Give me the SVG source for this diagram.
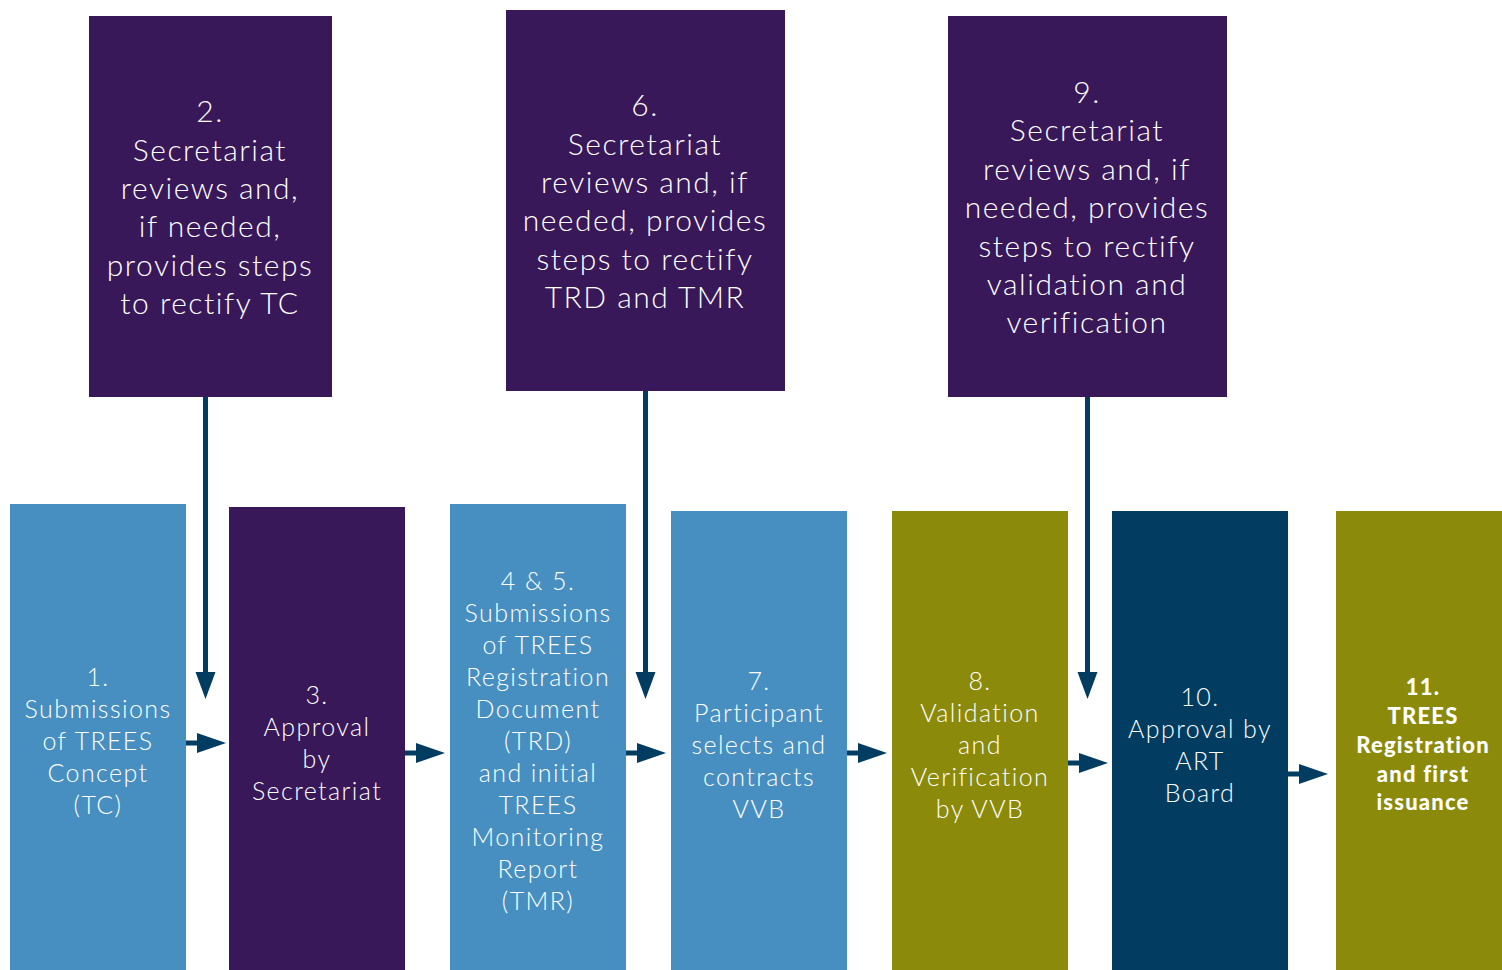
<svg xmlns="http://www.w3.org/2000/svg" width="1502" height="970" viewBox="0 0 1502 970">
<style>
.lb{fill:#478FC0}.pu{fill:#381858}.ol{fill:#8B8A0B}.nv{fill:#023D61}
text{font-family:Lato,"Open Sans","Liberation Sans",sans-serif;fill:#fff;text-anchor:middle;font-weight:300}
.t{font-size:30px;letter-spacing:1.5px}.b{font-size:25px;letter-spacing:1.4px}.bb{font-size:22px;font-weight:900;letter-spacing:1.2px}
.ln{stroke:#023D61;stroke-width:5;fill:none}
.hd{fill:#023D61}
</style>
<rect width="1502" height="970" fill="#fff"/>
<g id="n2"><rect class="pu" x="89" y="16" width="243" height="381"/>
<text class="t"><tspan x="210" y="122">2.</tspan><tspan x="210" y="161">Secretariat</tspan><tspan x="210" y="199">reviews and,</tspan><tspan x="210" y="237">if needed,</tspan><tspan x="210" y="276">provides steps</tspan><tspan x="210" y="314">to rectify TC</tspan></text></g>
<g id="n6"><rect class="pu" x="506" y="10" width="279" height="381"/>
<text class="t"><tspan x="645" y="116">6.</tspan><tspan x="645" y="155">Secretariat</tspan><tspan x="645" y="193">reviews and, if</tspan><tspan x="645" y="231">needed, provides</tspan><tspan x="645" y="270">steps to rectify</tspan><tspan x="645" y="308">TRD and TMR</tspan></text></g>
<g id="n9"><rect class="pu" x="948" y="16" width="279" height="381"/>
<text class="t"><tspan x="1087" y="103">9.</tspan><tspan x="1087" y="141">Secretariat</tspan><tspan x="1087" y="180">reviews and, if</tspan><tspan x="1087" y="218">needed, provides</tspan><tspan x="1087" y="257">steps to rectify</tspan><tspan x="1087" y="295">validation and</tspan><tspan x="1087" y="333">verification</tspan></text></g>
<g id="n1"><rect class="lb" x="10" y="504" width="176" height="466"/>
<text class="b"><tspan x="98" y="686">1.</tspan><tspan x="98" y="718">Submissions</tspan><tspan x="98" y="750">of TREES</tspan><tspan x="98" y="782">Concept</tspan><tspan x="98" y="814">(TC)</tspan></text></g>
<g id="n3"><rect class="pu" x="229" y="507" width="176" height="463"/>
<text class="b"><tspan x="317" y="704">3.</tspan><tspan x="317" y="736">Approval</tspan><tspan x="317" y="768">by</tspan><tspan x="317" y="800">Secretariat</tspan></text></g>
<g id="n45"><rect class="lb" x="450" y="504" width="176" height="466"/>
<text class="b"><tspan x="538" y="590">4 &amp; 5.</tspan><tspan x="538" y="622">Submissions</tspan><tspan x="538" y="654">of TREES</tspan><tspan x="538" y="686">Registration</tspan><tspan x="538" y="718">Document</tspan><tspan x="538" y="750">(TRD)</tspan><tspan x="538" y="782">and initial</tspan><tspan x="538" y="814">TREES</tspan><tspan x="538" y="846">Monitoring</tspan><tspan x="538" y="878">Report</tspan><tspan x="538" y="910">(TMR)</tspan></text></g>
<g id="n7"><rect class="lb" x="671" y="511" width="176" height="459"/>
<text class="b"><tspan x="759" y="690">7.</tspan><tspan x="759" y="722">Participant</tspan><tspan x="759" y="754">selects and</tspan><tspan x="759" y="786">contracts</tspan><tspan x="759" y="818">VVB</tspan></text></g>
<g id="n8"><rect class="ol" x="892" y="511" width="176" height="459"/>
<text class="b"><tspan x="980" y="690">8.</tspan><tspan x="980" y="722">Validation</tspan><tspan x="980" y="754">and</tspan><tspan x="980" y="786">Verification</tspan><tspan x="980" y="818">by VVB</tspan></text></g>
<g id="n10"><rect class="nv" x="1112" y="511" width="176" height="459"/>
<text class="b"><tspan x="1200" y="706">10.</tspan><tspan x="1200" y="738">Approval by</tspan><tspan x="1200" y="770">ART</tspan><tspan x="1200" y="802">Board</tspan></text></g>
<g id="n11"><rect class="ol" x="1336" y="511" width="166" height="459"/>
<text class="bb"><tspan x="1423" y="695">11.</tspan><tspan x="1423" y="724">TREES</tspan><tspan x="1423" y="753">Registration</tspan><tspan x="1423" y="782">and first</tspan><tspan x="1423" y="810">issuance</tspan></text></g>
<g id="connectors">
<line class="ln" x1="205.5" y1="397" x2="205.5" y2="674"/><polygon class="hd" points="195.5,672 215.5,672 205.5,699"/>
<line class="ln" x1="645.5" y1="391" x2="645.5" y2="674"/><polygon class="hd" points="635.5,672 655.5,672 645.5,699"/>
<line class="ln" x1="1087.5" y1="397" x2="1087.5" y2="674"/><polygon class="hd" points="1077.5,672 1097.5,672 1087.5,699"/>
<line class="ln" x1="186" y1="743" x2="199" y2="743"/><polygon class="hd" points="197,733 197,753 226,743"/>
<line class="ln" x1="405" y1="753" x2="418" y2="753"/><polygon class="hd" points="416,743 416,763 445,753"/>
<line class="ln" x1="626" y1="753" x2="639" y2="753"/><polygon class="hd" points="637,743 637,763 666,753"/>
<line class="ln" x1="847" y1="753" x2="860" y2="753"/><polygon class="hd" points="858,743 858,763 887,753"/>
<line class="ln" x1="1068" y1="763" x2="1081" y2="763"/><polygon class="hd" points="1079,753 1079,773 1108,763"/>
<line class="ln" x1="1288" y1="774" x2="1301" y2="774"/><polygon class="hd" points="1299,764 1299,784 1328,774"/>
</g>
</svg>
